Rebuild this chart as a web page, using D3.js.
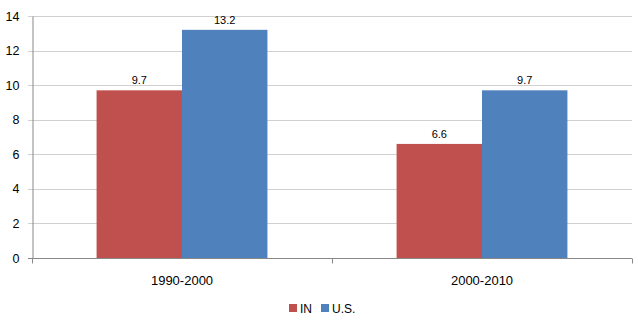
<!DOCTYPE html>
<html><head><meta charset="utf-8">
<script src="https://cdn.jsdelivr.net/npm/d3@7"></script>
<style>body{margin:0;background:#fff}svg{display:block}text{font-family:"Liberation Sans",Arial,sans-serif;fill:#000}</style>
</head><body><svg id="c" width="638" height="323"></svg>
<script>
const categories = ["1990-2000", "2000-2010"];
const seriesNames = ["IN", "U.S."];
const seriesIN = [9.7, 6.6];
const seriesUS = [13.2, 9.7];
const yTicks = [0, 2, 4, 6, 8, 10, 12, 14];
const colors = ["#C0504D", "#4F81BD"];

const svg = d3.select("#c");
const m = {l: 32, r: 6, t: 16, b: 65};
const W = 638, H = 323;
const x0 = d3.scaleBand().domain(categories).range([m.l, W - m.r]).paddingInner(0).paddingOuter(0);
const x1 = d3.scaleBand().domain(seriesNames).range([0, x0.bandwidth()]).paddingInner(0).paddingOuter(0.756);
const y = d3.scaleLinear().domain([0, 14]).range([H - m.b, m.t]);

// gridlines
svg.append("g").selectAll("line").data(yTicks).join("line")
  .attr("x1", m.l - 4).attr("x2", W - m.r)
  .attr("y1", d => Math.round(y(d)) + 0.5).attr("y2", d => Math.round(y(d)) + 0.5)
  .attr("stroke", d => d === 0 ? "#888" : "#d0d0d0");

// y axis
const ya = svg.append("g").attr("transform", `translate(${m.l + 0.5},0)`)
  .call(d3.axisLeft(y).tickValues(yTicks).tickSize(0).tickPadding(13));
ya.select(".domain").attr("stroke", "#888");
ya.selectAll("text").attr("font-size", 12.5).attr("font-family", "Liberation Sans, Arial, sans-serif").attr("fill", "#000");

// x axis
const xa = svg.append("g").attr("transform", `translate(0,${Math.round(y(0)) + 0.5})`)
  .call(d3.axisBottom(x0).tickSize(0).tickPadding(17));
xa.select(".domain").remove();
xa.selectAll("text").attr("font-size", 13).attr("font-family", "Liberation Sans, Arial, sans-serif").attr("fill", "#000");
svg.append("g").selectAll("line").data([m.l, m.l + x0.bandwidth(), W - m.r]).join("line")
  .attr("x1", d => Math.round(d) + 0.5).attr("x2", d => Math.round(d) + 0.5)
  .attr("y1", Math.round(y(0)) + 0.5).attr("y2", Math.round(y(0)) + 5.5).attr("stroke", "#888");

const data = categories.map((c, i) => ({c, vals: [seriesIN[i], seriesUS[i]]}));
const g = svg.append("g").selectAll("g").data(data).join("g")
  .attr("transform", d => `translate(${x0(d.c)},0)`);
g.selectAll("rect").data(d => d.vals.map((v, j) => ({v, s: seriesNames[j], j}))).join("rect")
  .attr("x", d => x1(d.s)).attr("width", x1.bandwidth())
  .attr("y", d => y(d.v)).attr("height", d => y(0) - y(d.v))
  .attr("fill", d => colors[d.j]);
g.selectAll("text.lbl").data(d => d.vals.map((v, j) => ({v, s: seriesNames[j]}))).join("text")
  .attr("class", "lbl")
  .attr("x", d => x1(d.s) + x1.bandwidth() / 2).attr("y", d => y(d.v) - 6)
  .attr("text-anchor", "middle").attr("font-size", 11).text(d => d.v.toFixed(1));

// legend
const lg = svg.append("g").attr("transform", "translate(289,304)");
const items = [{n: "IN", x: 0}, {n: "U.S.", x: 32}];
items.forEach((it, i) => {
  lg.append("rect").attr("x", it.x).attr("y", 0).attr("width", 8).attr("height", 8).attr("fill", colors[i]);
  lg.append("text").attr("x", it.x + 11).attr("y", 8.5).attr("font-size", 12).text(it.n);
});
</script></body></html>
